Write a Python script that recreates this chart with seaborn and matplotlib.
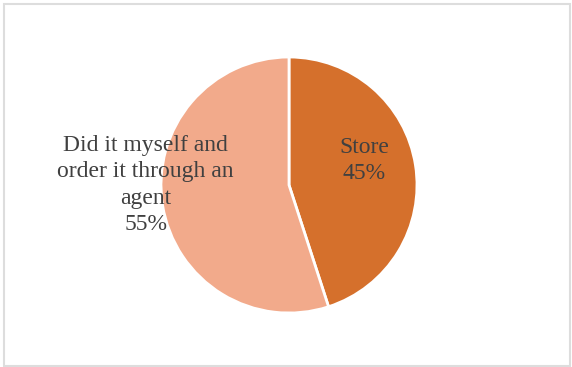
import seaborn as sns
import matplotlib.pyplot as plt
from matplotlib.patches import Rectangle

# data
categories = ["Store", "Did it myself and\norder it through an\nagent"]
shares = [45, 55]
colors = ["#D5702C", "#F2AA8B"]

sns.set_theme(style="white")
plt.rcParams['font.family'] = ['Liberation Serif', 'DejaVu Serif']

fig = plt.figure(figsize=(5.72, 3.67), dpi=100)
# chart border
fig.patches.append(Rectangle((4 / 572, 1 / 367), 566 / 572, 362 / 367,
                             transform=fig.transFigure, fill=False,
                             edgecolor="#DDDDDD", linewidth=1.5))

ax = fig.add_axes([161 / 572, 54 / 367, 256 / 572, 256 / 367])
ax.pie(shares, colors=colors, startangle=90, counterclock=False,
       wedgeprops=dict(edgecolor="white", linewidth=2))
ax.set_xlim(-1, 1)
ax.set_ylim(-1, 1)
ax.set_aspect("equal")
ax.axis("off")

# data labels (best-fit positions)
label_pos = [(0.59, 0.19), (-1.12, 0.0)]
for cat, val, (x, y) in zip(categories, shares, label_pos):
    ax.text(x, y, f"{cat}\n{val}%", ha="center", va="center",
            fontsize=17, color="#404040", linespacing=1.35)

fig.savefig("out.png", dpi=100)
